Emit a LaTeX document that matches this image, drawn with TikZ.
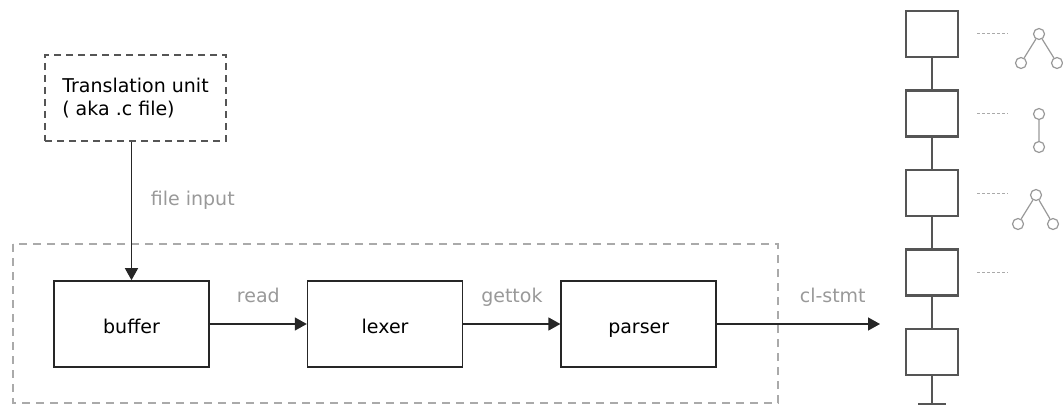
\documentclass[tikz,border=0pt]{standalone}
\usepackage{fontspec}
\setmainfont{DejaVu Sans}
\usetikzlibrary{arrows.meta,calc,positioning}

\definecolor{inkdark}{HTML}{262626}
\definecolor{cellgray}{HTML}{555555}
\definecolor{framegray}{HTML}{AAAAAA}
\definecolor{labelgray}{HTML}{999999}

\begin{document}
\begin{tikzpicture}[x=0.5pt, y=-0.5pt, every node/.style={font=\fontsize{9.5}{11.5}\selectfont}]
    \tikzset{stage/.style={draw=inkdark, line width=0.8pt, text height=10pt, text depth=1pt,
        minimum width=77.5pt, minimum height=43pt},
      unit/.style={draw=cellgray, line width=0.7pt, dash pattern=on 3.5pt off 2.5pt,
        align=left, minimum width=90.5pt, minimum height=43pt},
      frame/.style={draw=framegray, line width=0.7pt, dash pattern=on 4pt off 3pt},
      flow/.style={draw=inkdark, line width=0.7pt, -{Triangle[length=6pt,width=6.5pt]}},
      lbl/.style={text=labelgray},
      cell/.style={draw=cellgray, line width=1.1pt, inner sep=0pt,
        minimum width=26pt, minimum height=23pt},
      link/.style={draw=cellgray, line width=1.1pt},
      leader/.style={draw=framegray, line width=0.5pt, dash pattern=on 1.5pt off 1pt},
      leaf/.style={circle, draw=labelgray, fill=white, line width=0.6pt,
        inner sep=0pt, minimum size=5.5pt},
      twig/.style={draw=labelgray, line width=0.6pt}}
    \useasboundingbox (0,0) rectangle (1063,406);

    % front end
    \node[unit] (tu) at (135.5,98) {Translation unit\\( aka .c file)};
    \node[stage] (buffer) at (131.5,324) {buffer};
    \node[stage, right=48.5pt of buffer] (lexer) {lexer};
    \node[stage, right=48.5pt of lexer] (parser) {parser};
    \coordinate (out) at (880,324);
    \draw[frame] (13,244) rectangle (778,403);

    \draw[flow] (tu.south -| buffer.north) -- node[lbl, pos=0.42, right=6pt] {file input} (buffer.north);
    \draw[flow] (buffer) -- node[lbl, midway, anchor=base, yshift=10.75pt] {read} (lexer);
    \draw[flow] (lexer) -- node[lbl, midway, anchor=base, yshift=10.75pt] {gettok} (parser);
    \draw[flow] (parser) -- node[lbl, pos=0.71, anchor=base, yshift=10.75pt] {cl-stmt} (out);

    % statement list
    \foreach \i/\y in {1/34,2/113.5,3/193,4/272.5,5/352}
      \node[cell] (s\i) at (932,\y) {};
    \foreach \i/\j in {1/2,2/3,3/4,4/5}
      \draw[link] (s\i) -- (s\j);
    \coordinate (foot) at (932,404);
    \draw[link] (s5) -- (foot);
    \draw[link] ($(foot)+(-14,0)$) -- ($(foot)+(14,0)$);
    \foreach \i in {1,...,4}
      \draw[leader] ($(s\i.east)+(18,0)$) -- ++(31,0);

    % trees
    \node[leaf] (a1) at (1039,34) {};
    \node[leaf] (a2) at (1021,63) {};
    \node[leaf] (a3) at (1057,63) {};
    \node[leaf] (b1) at (1039,114) {};
    \node[leaf] (b2) at (1039,147) {};
    \node[leaf] (c1) at (1036,195) {};
    \node[leaf] (c2) at (1018,224) {};
    \node[leaf] (c3) at (1053,224) {};
    \draw[twig] (a1) -- (a2) (a1) -- (a3) (b1) -- (b2) (c1) -- (c2) (c1) -- (c3);
  \end{tikzpicture}
\end{document}
